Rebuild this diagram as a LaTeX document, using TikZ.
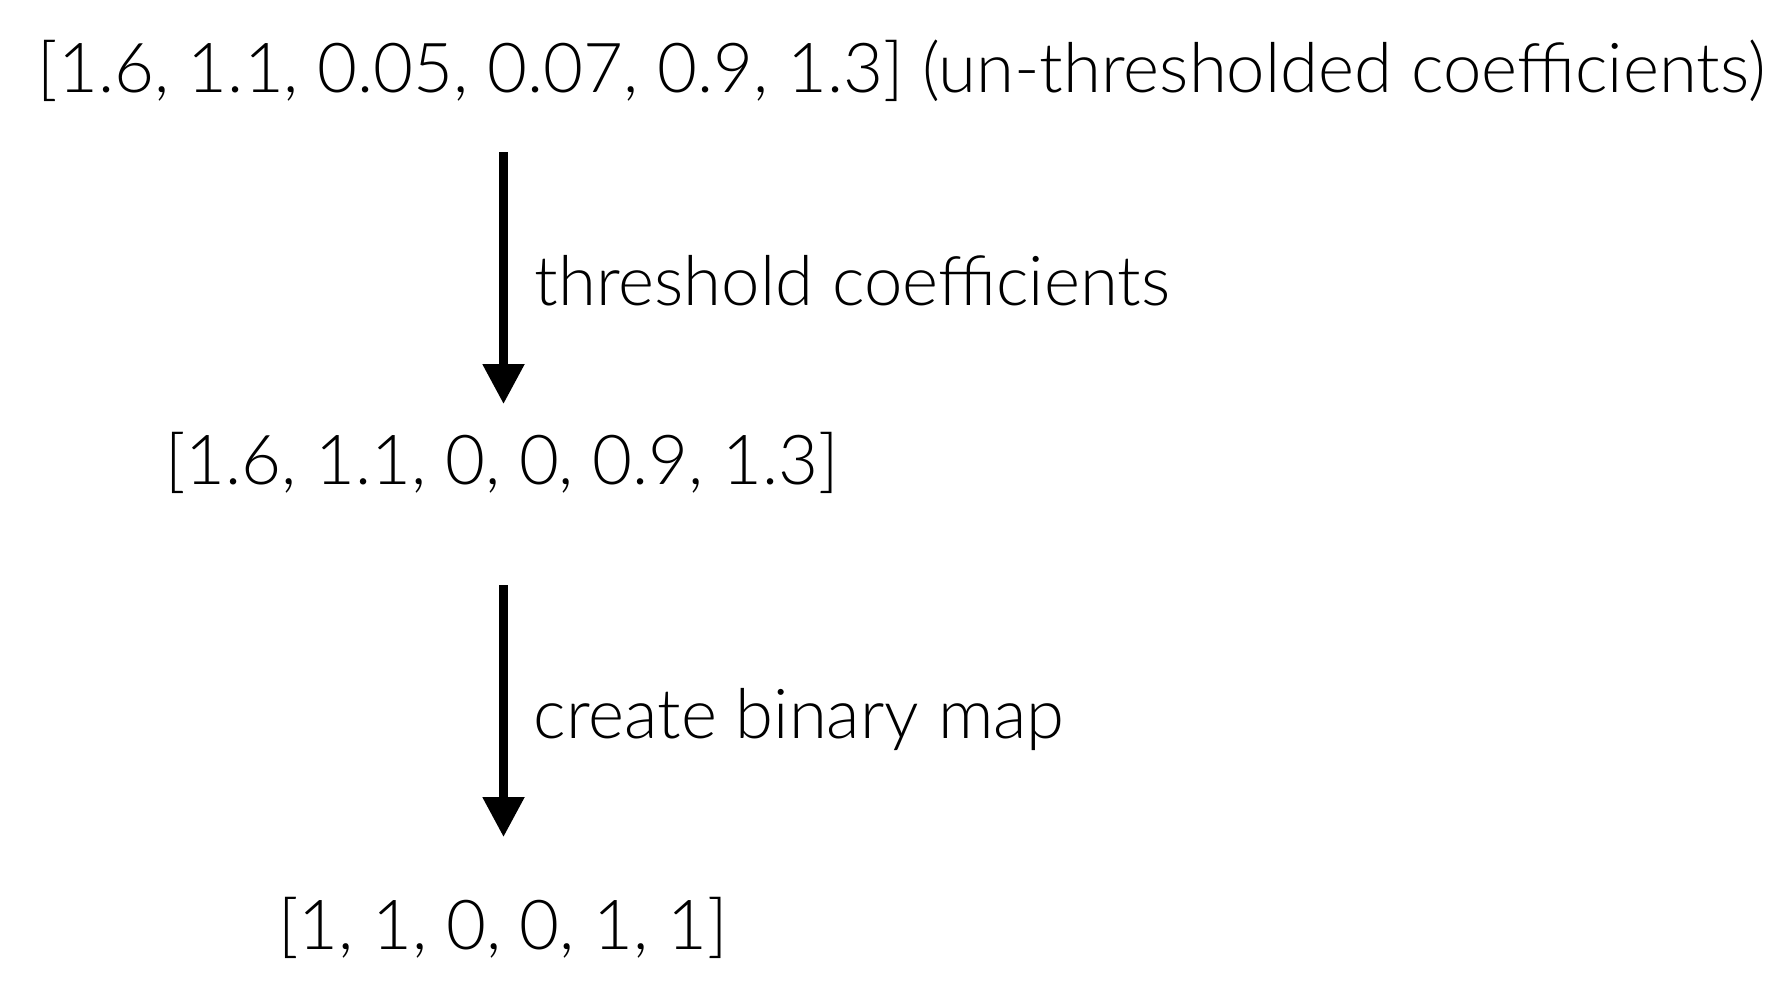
\documentclass[tikz,border=0pt]{standalone}
\usepackage{fontspec}
\setmainfont{Lato}[UprightFont=* Light]
\usepackage{tikz}
\usetikzlibrary{arrows.meta, calc, positioning}
\tikzset{>={Triangle[length=4mm,width=4mm]}}
\tikzset{
  vec/.style={inner sep=0pt, anchor=base west, font=\fontsize{19.6}{24}\selectfont},
  lbl/.style={inner sep=0pt, anchor=base west, font=\fontsize{19.6}{24}\selectfont},
  flow/.style={->, line width=2.4pt}
}

\begin{document}
\begin{tikzpicture}
			\useasboundingbox (0,0) rectangle (17.91,-9.95);
			\coordinate (ax) at (5.035,0);
			\node[vec] (raw) at (0.37,-0.92) {[1.6, 1.1, 0.05, 0.07, 0.9, 1.3] (un-thresholded coefficients)};
			\node[vec] (thr) at (1.645,-4.84) {[1.6, 1.1, 0, 0, 0.9, 1.3]};
			\node[vec] (bin) at (2.775,-9.49) {[1, 1, 0, 0, 1, 1]};
			\draw[flow] ([yshift=-0.60cm]raw.base -| ax) -- ([yshift=0.80cm]thr.base -| ax);
			\node[lbl] (lthr) at (5.34,-3.05) {threshold coefficients};
			\draw[flow] ([yshift=-1.01cm]thr.base -| ax) -- ([yshift=1.12cm]bin.base -| ax);
			\node[lbl] (lbin) at (5.33,-7.38) {create binary map};
		\end{tikzpicture}
\end{document}
